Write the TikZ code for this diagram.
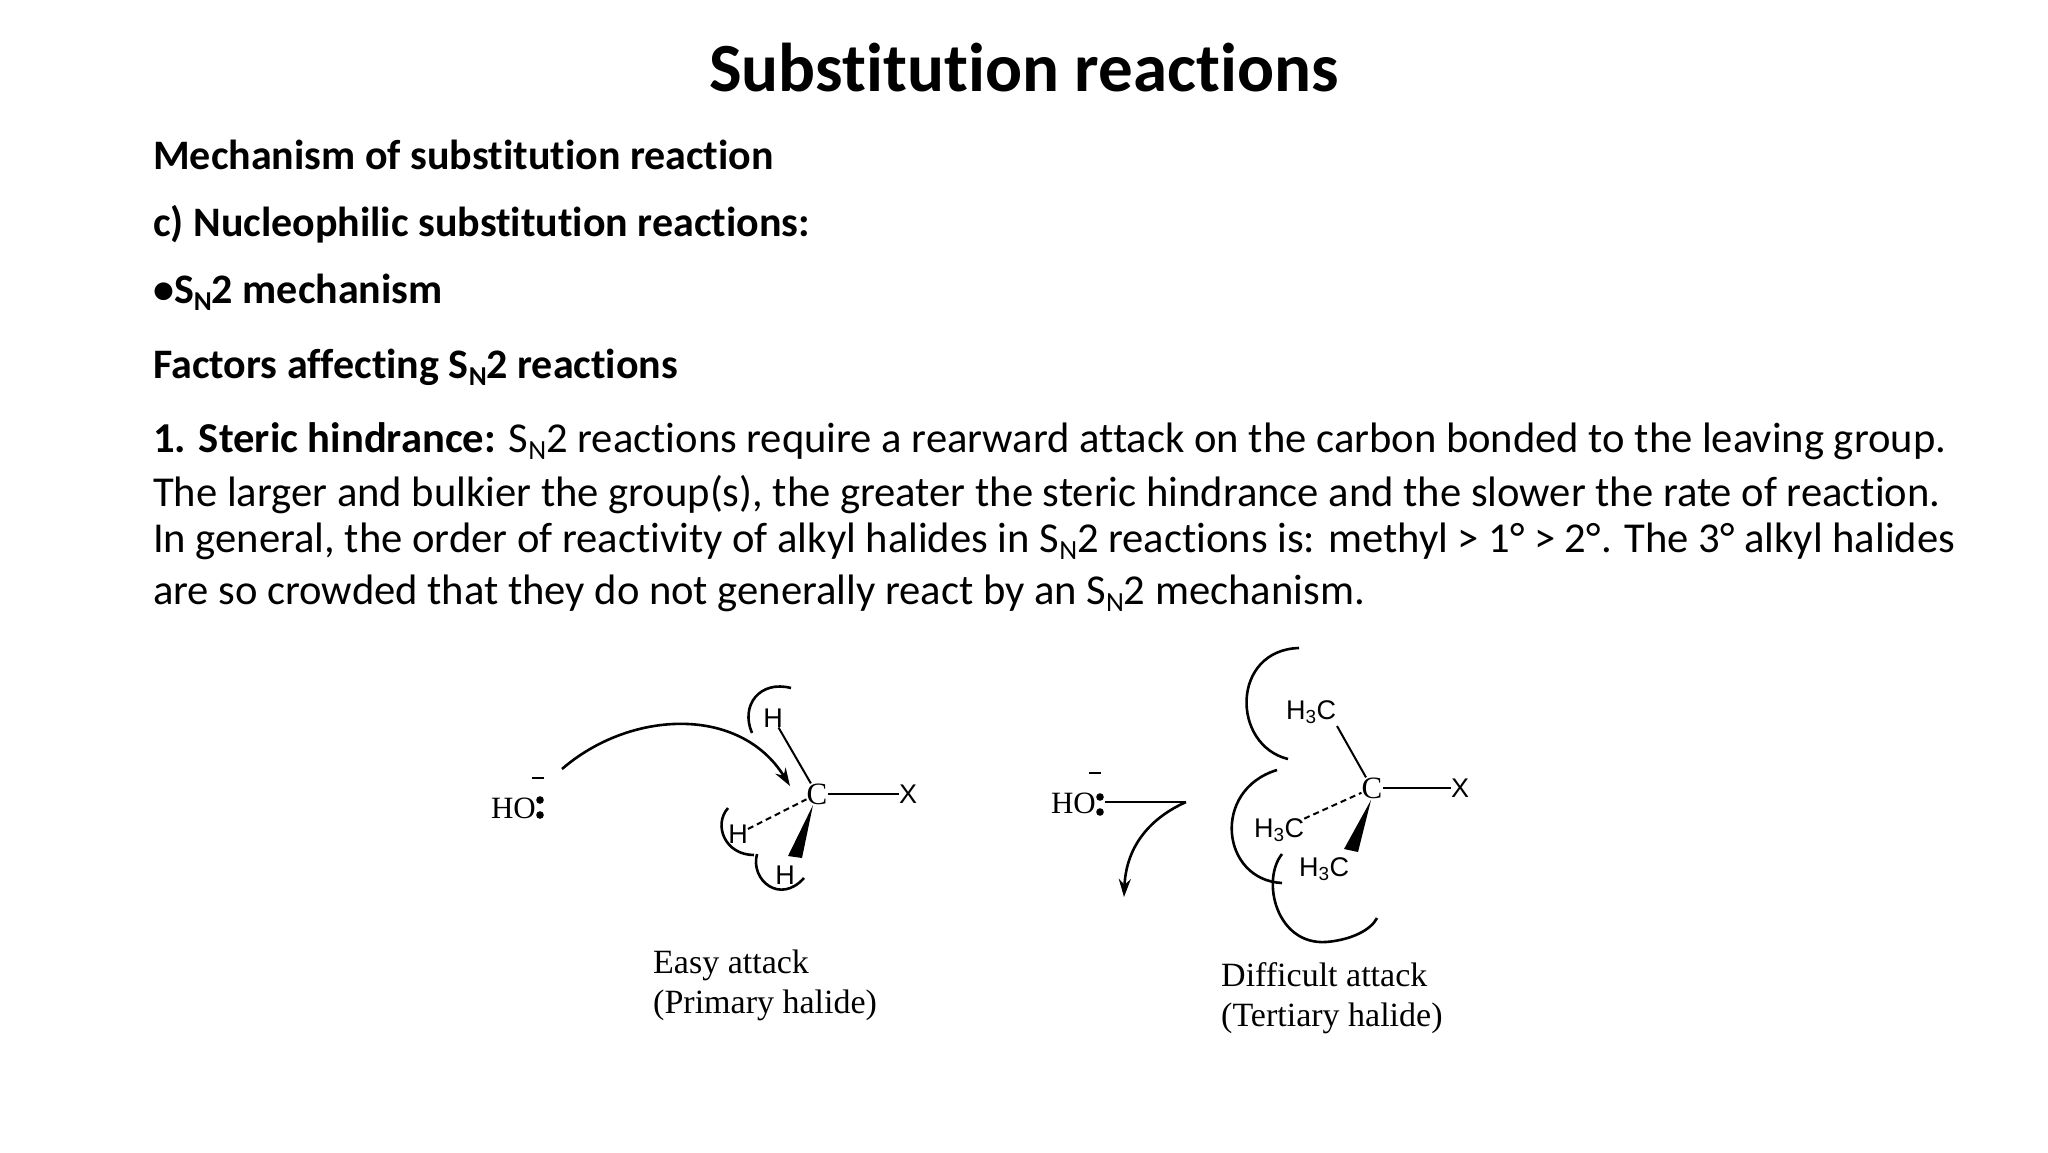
\documentclass[tikz,border=0pt]{standalone}
\usepackage{fontspec}
\setmainfont{Carlito}[Ligatures=NoCommon]
\newfontfamily\tms{Liberation Serif}
\newfontfamily\ars{Liberation Sans}
\usetikzlibrary{arrows.meta}
\newcommand\snn{S\raisebox{-0.35ex}{\scalebox{0.65}{N}}2}
\tikzset{
 body/.style={anchor=mid west,inner sep=0,font=\fontsize{42.6}{44}\selectfont},
 head/.style={body,font=\bfseries\fontsize{42}{44}\selectfont},
 atom/.style={inner sep=0,font=\ars\fontsize{27}{27}\selectfont},
 satom/.style={inner sep=0,font=\tms\fontsize{31}{31}\selectfont},
 captxt/.style={anchor=north west,inner sep=0,align=left,font=\tms\fontsize{34}{40}\selectfont},
 bond/.style={line width=2pt},
 hemi/.style={line width=2.6pt},
 dsh/.style={bond,dash pattern=on 6pt off 4pt},
 arr/.style={line width=2.6pt,-{Stealth[length=18pt,width=12pt]}}
}
\begin{document}
\begin{tikzpicture}[x=1pt,y=-1pt]
\useasboundingbox[fill=white] (0,0) rectangle (2048,1152);
\node[inner sep=0,font=\bfseries\fontsize{69}{69}\selectfont] (title) at (1024,68) {Substitution reactions};
\node[head] (h1) at (153,167) {Mechanism of substitution reaction};
\node[head] (h2) at (153,234) {c) Nucleophilic substitution reactions:};
\node[head] (h3) at (153,301) {•\snn\ mechanism};
\node[head] (h4) at (153,376) {Factors affecting \snn\ reactions};
\node[body] (p1) at (153,450) {\textbf{1. Steric hindrance:} \snn\ reactions require a rearward attack on the carbon bonded to the leaving group.};
\node[body] (p2) at (153,504) {The larger and bulkier the group(s), the greater the steric hindrance and the slower the rate of reaction.};
\node[body] (p3) at (153,550) {In general, the order of reactivity of alkyl halides in \snn\ reactions is: methyl > 1° > 2°. The 3° alkyl halides};
\node[body] (p4) at (153,602) {are so crowded that they do not generally react by an \snn\ mechanism.};
% left molecule
\node[satom,anchor=east] (ho1) at (536,808) {HO};
\fill (540,800) circle (3.8pt) (540,815) circle (3.8pt);
\draw[line width=2.6pt] (532,778) -- (544,778);
\node[satom] (c1) at (817,794) {C};
\node[atom] (x1) at (908,794) {X};
\begin{scope}[xshift=-5pt]
\node[atom] (ht) at (778,718) {H};
\node[atom] (hl) at (743,834) {H};
\node[atom] (hb) at (790,875) {H};
\draw[hemi] (757,733) .. controls (745,705) and (765,680) .. (796,688);
\draw[hemi] (733,808) .. controls (718,825) and (730,855) .. (759,855);
\draw[hemi] (762,854) .. controls (755,880) and (785,905) .. (809,878);
\end{scope}
\draw[bond] (c1) -- (x1);
\draw[bond] (ht) -- (c1);
\draw[dsh] (hl) -- (c1);
\fill (813,805) -- (788,856) -- (802,858) -- cycle;
\coordinate (a1s) at (562,769);
\coordinate (a1e) at (790,786);
\draw[arr] (a1s) .. controls (630,710) and (740,705) .. (a1e);
\node[captxt] (cap1) at (653,950) {Easy attack\\(Primary halide)};
% right molecule
\begin{scope}[xshift=-14pt]
\node[satom,anchor=east] (ho2) at (1110,803) {HO};
\fill (1114,797) circle (3.8pt) (1114,812) circle (3.8pt);
\draw[line width=2.6pt] (1103,773) -- (1115,773);
\coordinate (b0) at (1119,802);
\coordinate (b1) at (1200,802);
\coordinate (b2) at (1138,897);
\draw[line width=2.6pt] (b0) -- (b1);
\draw[arr] (b1) .. controls (1160,820) and (1140,850) .. (b2);
\node[satom] (c2) at (1386,788) {C};
\node[atom] (x2) at (1474,788) {X};
\node[atom] (mt) at (1325,712) {H\textsubscript{3}C};
\node[atom] (ml) at (1293,830) {H\textsubscript{3}C};
\node[atom] (mb) at (1338,869) {H\textsubscript{3}C};
\draw[bond] (c2) -- (x2);
\draw[bond] (1351,726) -- (c2);
\draw[dsh] (ml) -- (c2);
\fill (1385,800) -- (1358,849) -- (1372,852) -- cycle;
\draw[hemi] (1302,759) .. controls (1245,745) and (1245,650) .. (1313,648);
\draw[hemi] (1291,770) .. controls (1225,790) and (1235,880) .. (1296,883);
\draw[hemi] (1296,854) .. controls (1275,880) and (1290,945) .. (1340,942) .. controls (1365,940) and (1385,930) .. (1391,918);
\node[captxt] (cap2) at (1235,962) {Difficult attack\\(Tertiary halide)};
\end{scope}
\end{tikzpicture}
\end{document}
